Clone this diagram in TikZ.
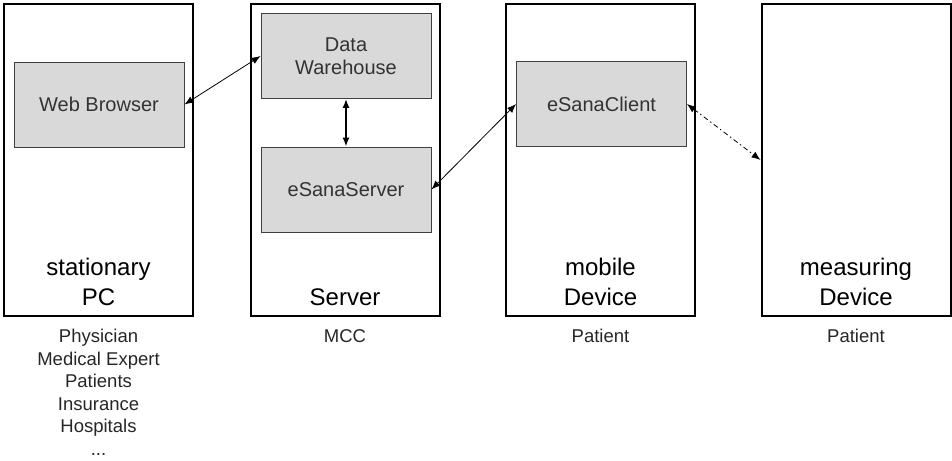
\documentclass[tikz,border=0pt]{standalone}
\usepackage{fontspec}
\setmainfont{Liberation Sans}
\usetikzlibrary{arrows.meta}
\tikzset{
  unit/.style   = { draw, line width=2pt, minimum width=189pt, minimum height=312pt, inner sep=0pt },
  module/.style = { draw=black!75, line width=0.9pt, fill=black!15, minimum width=170pt, minimum height=85pt,
                    inner sep=0pt, align=center, text=black!80, font=\fontsize{20}{23}\selectfont },
  title/.style  = { align=center, font=\fontsize{24}{30}\selectfont },
  users/.style  = { align=center, text=black!85, font=\fontsize{18.5}{22.5}\selectfont },
  link/.style   = { {Latex[length=9pt,width=7pt]}-{Latex[length=9pt,width=7pt]}, line width=0.8pt },
  radio/.style  = { link, dash pattern=on 5pt off 3pt on 1.5pt off 3pt }
}

\begin{document}
\begin{tikzpicture}[x=1pt,y=-1pt]
    \useasboundingbox (0,0) rectangle (952,460);

    %% the four units
    \node[unit] (pc)  at (98.5,160)  {};
    \node[unit] (srvbox) at (345,160) {};
    \node[unit] (mob) at (600.5,160) {};
    \node[unit] (md)  at (856,160)   {};

    %% modules inside them
    \node[module] (wb)  at (99,104.5)  {Web Browser};
    \node[module] (dw)  at (346,56)    {Data\\Warehouse};
    \node[module] (srv) at (346,189.5) {eSanaServer};
    \node[module] (cl)  at (601.5,104) {eSanaClient};

    \node[title] (pclbl)  at (98.5,282) {stationary\\PC};
    \node[title] (srvlbl) at (345,297)  {Server};
    \node[title] (moblbl) at (600.5,282) {mobile\\Device};
    \node[title] (mdlbl)  at (856,282)  {measuring\\Device};

    \node[users, anchor=north] (pcusr) at (98.5,326) {Physician\\Medical Expert\\Patients\\Insurance\\Hospitals\\...};
    \node[users, anchor=north] (srvusr) at (345,326) {MCC};
    \node[users, anchor=north] (mobusr) at (600.5,326) {Patient};
    \node[users, anchor=north] (mdusr)  at (856,326)  {Patient};

    %% connections
    \draw[link] (wb.east) -- (dw.west);
    \draw[link, line width=1.5pt] (dw.south) -- (srv.north);
    \draw[link] (cl.west) -- (srv.east);
    \draw[radio] (cl.east) -- (md.west);
\end{tikzpicture}
\end{document}
